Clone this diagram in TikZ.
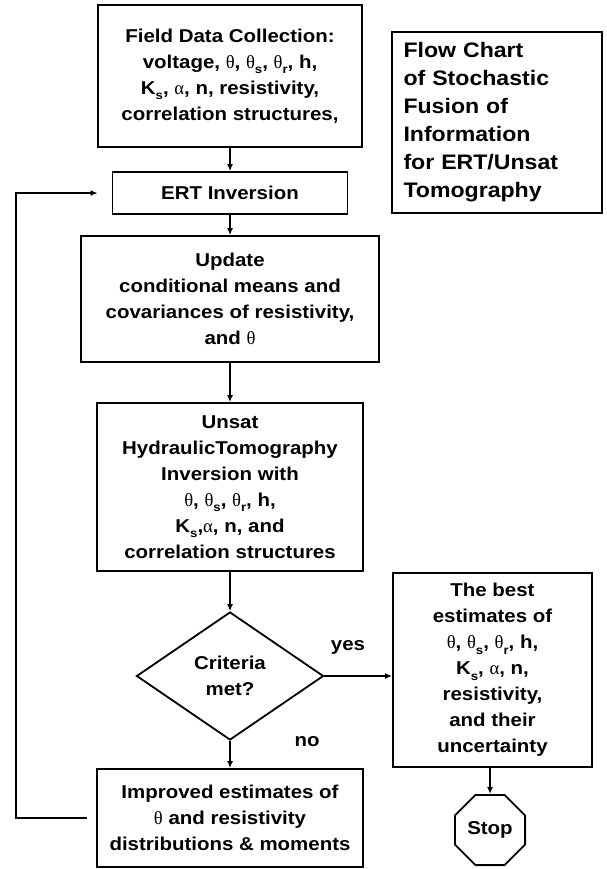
\documentclass[tikz,border=0pt]{standalone}
\usepackage{fontspec}
\usetikzlibrary{arrows.meta,shapes.geometric}
\newfontfamily\chartfont{Liberation Sans}[FakeStretch=1.1]
\newfontfamily\greekfont{Liberation Serif}
\newcommand{\gth}{{\greekfont\mdseries θ}}
\newcommand{\gal}{{\greekfont\mdseries α}}
\newcommand{\lowsub}[1]{\raisebox{-0.3em}{\fontsize{12}{12}\selectfont #1}}

\begin{document}
\begin{tikzpicture}[x=1pt,y=-1pt,>={Latex[length=7pt,width=6pt]},line width=1.8pt,
  box/.style={draw,rectangle,align=center,inner sep=0pt,font=\chartfont\bfseries\fontsize{18.6}{26}\selectfont},
  decision/.style={draw,diamond,align=center,inner sep=0pt,font=\chartfont\bfseries\fontsize{18.6}{26}\selectfont},
  octa/.style={draw,regular polygon,regular polygon sides=8,inner sep=0pt,font=\chartfont\bfseries\fontsize{18.6}{26}\selectfont},
  answer/.style={font=\chartfont\bfseries\fontsize{18.6}{26}\selectfont}]
\useasboundingbox (0,0) rectangle (606,869);
\node[box,minimum width=264pt,minimum height=142pt] (field) at (230,76)
  {Field Data Collection:\\ voltage, \gth, \gth\lowsub{s}, \gth\lowsub{r}, h,\\ K\lowsub{s}, \gal, n, resistivity,\\ correlation structures,};
\node[box,draw,align=left,text width=187pt,inner xsep=11.5pt,minimum height=181pt,font=\chartfont\bfseries\fontsize{21}{28}\selectfont] (title) at (497,122.5)
  {Flow Chart\\ of Stochastic\\ Fusion of\\ Information\\ for ERT/Unsat\\ Tomography};
\node[box,minimum width=235pt,minimum height=42pt] (ert) at (230,193) {ERT Inversion};
\node[box,minimum width=298pt,minimum height=126pt] (update) at (230,299)
  {Update\\ conditional means and\\ covariances of resistivity,\\ and \gth};
\node[box,minimum width=266pt,minimum height=168pt] (unsat) at (230,487)
  {Unsat\\ HydraulicTomography\\ Inversion with\\ \gth, \gth\lowsub{s}, \gth\lowsub{r}, h,\\ K\lowsub{s},\gal, n, and\\ correlation structures};
\node[decision,minimum width=187pt,minimum height=128pt] (crit) at (230,676) {Criteria\\ met?};
\node[box,minimum width=199pt,minimum height=194pt] (best) at (492.5,670)
  {The best\\ estimates of\\ \gth, \gth\lowsub{s}, \gth\lowsub{r}, h,\\ K\lowsub{s}, \gal, n,\\ resistivity,\\ and their\\ uncertainty};
\node[octa,minimum size=76pt] (stop) at (490,830) {Stop};
\node[box,minimum width=266pt,minimum height=98pt] (improved) at (230,818)
  {Improved estimates of\\ \gth{} and resistivity\\ distributions \& moments};
\node[answer] (yes) at (348,647) {yes};
\node[answer] (no) at (307,742) {no};
\draw[->] (field) -- (ert);
\draw[->] (ert) -- (update);
\draw[->] (update) -- (unsat);
\draw[->] (unsat) -- (crit);
\draw[->] (crit.east) -- (crit.east -| best.west);
\draw[->] (crit) -- (improved);
\draw[->] (stop.north |- best.south) -- (stop.north);
\draw[->,shorten <=9pt,shorten >=14pt] (improved.west) -- ++(-80,0) |- (ert.west);
\end{tikzpicture}
\end{document}
